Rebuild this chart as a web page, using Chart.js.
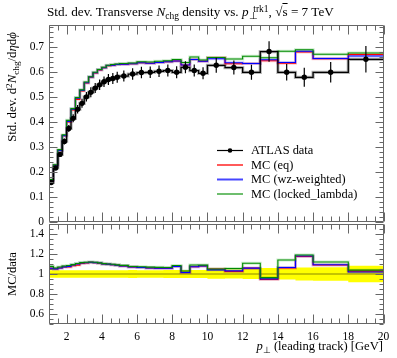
<!DOCTYPE html>
<html><head><meta charset="utf-8">
<script src="https://cdn.jsdelivr.net/npm/chart.js@4/dist/chart.umd.min.js"></script>
<style>
body{margin:0;background:#fff;width:397px;height:358px;overflow:hidden;position:relative;font-family:"Liberation Serif",serif;}
canvas{position:absolute;left:0;}
#c1{top:0;} #c2{top:218px;}
.t{position:absolute;white-space:nowrap;color:#000;line-height:1;}
.sb{font-size:72%;position:relative;top:0.3em;}
.sp{font-size:72%;position:relative;top:-0.45em;}
</style></head><body>
<canvas id="c1" width="397" height="226"></canvas>
<canvas id="c2" width="397" height="140"></canvas>
<div class="t" id="title" style="left:47px;top:5px;font-size:13.2px;">Std. dev. Transverse <i>N</i><span class="sb">chg</span> density vs. <i>p</i><span class="sb">⊥</span><span class="sp" style="margin-left:-0.45em">trk1</span>, √<span style="text-decoration:overline">s</span> = 7 TeV</div>
<div class="t" id="ytitle" style="left:12px;top:87px;font-size:12.8px;transform:translate(-50%,-50%) rotate(-90deg);">Std. dev. d<span class="sp">2</span><i>N</i><span class="sb">chg</span>/d<i>η</i>d<i>ϕ</i></div>
<div class="t" id="rtitle" style="left:12px;top:274px;font-size:12.5px;transform:translate(-50%,-50%) rotate(-90deg);">MC/data</div>
<div class="t" id="xtitle" style="right:14px;top:340px;font-size:12.6px;"><i>p</i><span class="sb">⊥</span> (leading track) [GeV]</div>
<script>
// ---- data ----
const binEdges = [1,1.25,1.5,1.75,2,2.25,2.5,2.75,3,3.25,3.5,3.75,4,4.25,4.5,4.75,5,
  5.5,6,6.5,7,7.5,8,8.5,9,9.5,10,11,12,13,14,15,16,18,20];
const atlasData = [0.158,0.216,0.270,0.322,0.374,0.414,0.450,0.474,0.500,0.518,0.535,0.548,0.560,0.569,0.573,0.578,
  0.583,0.591,0.597,0.598,0.602,0.605,0.598,0.618,0.605,0.594,
  0.626,0.617,0.598,0.681,0.598,0.578,0.598,0.650];
const atlasErr = [0.006,0.008,0.010,0.012,0.014,0.016,0.017,0.018,0.019,0.020,0.020,0.021,0.021,0.022,0.022,0.022,
  0.022,0.023,0.023,0.023,0.023,0.024,0.024,0.024,0.024,0.024,
  0.030,0.028,0.030,0.041,0.033,0.038,0.041,0.053];
const mcEq = [0.167,0.227,0.286,0.345,0.400,0.448,0.490,0.524,0.555,0.578,0.595,0.607,0.616,0.624,0.626,0.629,
  0.630,0.632,0.636,0.634,0.637,0.640,0.643,0.627,0.649,0.642,
  0.657,0.632,0.633,0.644,0.634,0.679,0.652,0.669];
const mcWz = [0.167,0.227,0.286,0.345,0.402,0.451,0.495,0.526,0.556,0.579,0.596,0.608,0.616,0.625,0.626,0.629,
  0.630,0.632,0.636,0.634,0.637,0.640,0.643,0.627,0.649,0.642,
  0.652,0.636,0.633,0.648,0.637,0.682,0.653,0.663];
const mcLL = [0.170,0.229,0.289,0.348,0.406,0.453,0.497,0.528,0.559,0.580,0.598,0.609,0.618,0.626,0.629,0.631,
  0.633,0.635,0.640,0.639,0.642,0.644,0.649,0.637,0.659,0.647,
  0.657,0.651,0.662,0.656,0.682,0.688,0.670,0.675];
const xTickLabels = [2,4,6,8,10,12,14,16,18,20];
const yMainTicks = [0,0.1,0.2,0.3,0.4,0.5,0.6,0.7];
const yRatioTicks = [0.6,0.8,1,1.2,1.4];
const legendLabels = ['ATLAS data','MC (eq)','MC (wz-weighted)','MC (locked_lambda)'];

const FONT = '"Liberation Serif", serif';
const RED='#ff0000', BLUE='#0000ff', GREEN='#008a00';

function steps(vals){
  const pts = vals.map((v,i)=>({x:binEdges[i],y:v}));
  pts.push({x:binEdges[binEdges.length-1], y:vals[vals.length-1]});
  return pts;
}
const centers = binEdges.slice(0,-1).map((e,i)=>(e+binEdges[i+1])/2);

function line(data,color,w,extra){
  return Object.assign({type:'line',data:data,borderColor:color,borderWidth:w,pointRadius:0,stepped:true,fill:false,tension:0},extra||{});
}
// datasets given bottom-to-top; lower order is drawn on top
function stack(list){ list.forEach((d,i)=>{ d.order = list.length - i; }); return list; }

// frame + inward ticks
function framePlugin(cfg){
  return {id:'frame'+cfg.name, afterDraw(chart){
    const ctx=chart.ctx, a=chart.chartArea, xs=chart.scales.x, ys=chart.scales.y;
    ctx.save();
    ctx.strokeStyle='#666'; ctx.lineWidth=1;
    ctx.beginPath();
    const L=Math.round(a.left)+0.5,R=Math.round(a.right)-0.5,T=Math.round(a.top)+0.5,B=Math.round(a.bottom)-0.5;
    ctx.rect(L,T,R-L,B-T);
    for(let v=1; v<=20.001; v+=0.5){
      const px=Math.round(xs.getPixelForValue(v))+0.5;
      const major = Math.abs(v/2-Math.round(v/2))<1e-6;
      const len = major?9:5;
      ctx.moveTo(px,B); ctx.lineTo(px,B-len);
      ctx.moveTo(px,T); ctx.lineTo(px,T+len);
    }
    for(let i=0;i<=Math.round((cfg.ymax-cfg.ymin)/cfg.minor);i++){
      const v=cfg.ymin+i*cfg.minor;
      const py=Math.round(ys.getPixelForValue(v))+0.5;
      const r=v/cfg.major;
      const major=Math.abs(r-Math.round(r))<1e-6;
      const len=major?8:4;
      ctx.moveTo(L,py); ctx.lineTo(L+len,py);
      ctx.moveTo(R,py); ctx.lineTo(R-len,py);
    }
    ctx.stroke();
    ctx.restore();
  }};
}

const errPlugin = {id:'err', afterDatasetsDraw(chart){
  const ctx=chart.ctx, xs=chart.scales.x, ys=chart.scales.y;
  ctx.save(); ctx.strokeStyle='#000'; ctx.lineWidth=1.2;
  ctx.beginPath();
  atlasData.forEach((v,i)=>{
    const px=xs.getPixelForValue(centers[i]);
    ctx.moveTo(px, ys.getPixelForValue(v-atlasErr[i]));
    ctx.lineTo(px, ys.getPixelForValue(v+atlasErr[i]));
  });
  ctx.stroke(); ctx.restore();
}};

const legendPlugin = {id:'leg', afterDraw(chart){
  const ctx=chart.ctx;
  const cols=['#000','rgb(255,90,90)','rgb(70,70,255)','rgb(110,190,110)'];
  const x0=217,x1=243,tx=251,y0=150.5,dy=14.5;
  ctx.save();
  ctx.font='12.4px '+FONT; ctx.textBaseline='middle'; ctx.fillStyle='#000';
  legendLabels.forEach((lab,i)=>{
    const y=y0+i*dy;
    ctx.strokeStyle=cols[i]; ctx.lineWidth=i===0?1.2:2;
    ctx.beginPath(); ctx.moveTo(x0,y); ctx.lineTo(x1,y); ctx.stroke();
    if(i===0){ctx.beginPath(); ctx.arc((x0+x1)/2,y,2.3,0,Math.PI*2); ctx.fillStyle='#000'; ctx.fill();}
    ctx.fillStyle='#000';
    ctx.fillText(lab,tx,y+0.5);
  });
  ctx.restore();
}};

function yScale(min,max,ticks){
  return {type:'linear',min:min,max:max,
    grid:{display:false,drawTicks:false}, border:{display:false},
    afterBuildTicks(s){ s.ticks=ticks.map(v=>({value:v})); },
    afterFit(s){ s.width=49; s.paddingTop=0; s.paddingBottom=0; },
    ticks:{padding:5,color:'#000',font:{family:FONT,size:11.5},callback:v=>String(v)}};
}

// ---- main chart ----
const halo = a=>`rgba(${a},0.2)`;
new Chart(document.getElementById('c1'),{
  type:'line',
  data:{datasets:stack([
    line(steps(atlasData),'rgba(0,0,0,0.3)',3.2),
    line(steps(mcEq),halo('255,0,0'),3),
    line(steps(mcWz),halo('0,0,255'),3),
    line(steps(mcLL),halo('0,160,0'),3),
    line(steps(mcEq),RED,1.1),
    line(steps(mcWz),BLUE,1.1),
    line(steps(mcLL),GREEN,1.1),
    line(steps(atlasData),'#000',1.3),
    {type:'line',data:atlasData.map((v,i)=>({x:centers[i],y:v})),showLine:false,pointRadius:2.7,pointBackgroundColor:'#000',pointBorderWidth:0}
  ])},
  options:{responsive:false,animation:false,
    layout:{padding:{top:25,right:13.5,bottom:2,left:0}},
    plugins:{legend:{display:false},tooltip:{enabled:false}},
    scales:{
      x:{type:'linear',min:1,max:20,display:false,afterFit(s){s.height=0;}},
      y:yScale(0,0.787,yMainTicks)
    }},
  plugins:[errPlugin,legendPlugin,framePlugin({name:'m',ymin:0,ymax:0.78,minor:0.02,major:0.1})]
});

// ---- ratio chart ----
const rel = atlasData.map((v,i)=>atlasErr[i]/v);
new Chart(document.getElementById('c2'),{
  type:'line',
  data:{datasets:stack([
    line(steps(rel.map(r=>1+r)),'rgba(0,0,0,0)',0),
    line(steps(rel.map(r=>1-r)),'rgba(0,0,0,0)',0,{fill:'-1',backgroundColor:'#ffff00'}),
    line(steps(atlasData.map(v=>v/v)),'rgba(60,60,0,0.6)',1.2),
    line(steps(mcEq.map((m,i)=>m/atlasData[i])),halo('255,0,0'),3),
    line(steps(mcWz.map((m,i)=>m/atlasData[i])),halo('0,0,255'),3),
    line(steps(mcLL.map((m,i)=>m/atlasData[i])),halo('0,160,0'),3),
    line(steps(mcEq.map((m,i)=>m/atlasData[i])),RED,1.1),
    line(steps(mcWz.map((m,i)=>m/atlasData[i])),BLUE,1.1),
    line(steps(mcLL.map((m,i)=>m/atlasData[i])),GREEN,1.1)
  ])},
  options:{responsive:false,animation:false,
    layout:{padding:{top:6,right:13.5,bottom:0,left:0}},
    plugins:{legend:{display:false},tooltip:{enabled:false}},
    scales:{
      x:{type:'linear',min:1,max:20,grid:{display:false,drawTicks:false},border:{display:false},
        afterBuildTicks(s){ s.ticks=xTickLabels.map(v=>({value:v})); },
        afterFit(s){ s.height=34; s.paddingLeft=0; s.paddingRight=0; },
        ticks:{padding:6,color:'#000',font:{family:FONT,size:11.5},maxRotation:0,autoSkip:false}},
      y:yScale(0.5,1.5,yRatioTicks)
    }},
  plugins:[framePlugin({name:'r',ymin:0.5,ymax:1.5,minor:0.05,major:0.2})]
});
</script>
</body></html>
